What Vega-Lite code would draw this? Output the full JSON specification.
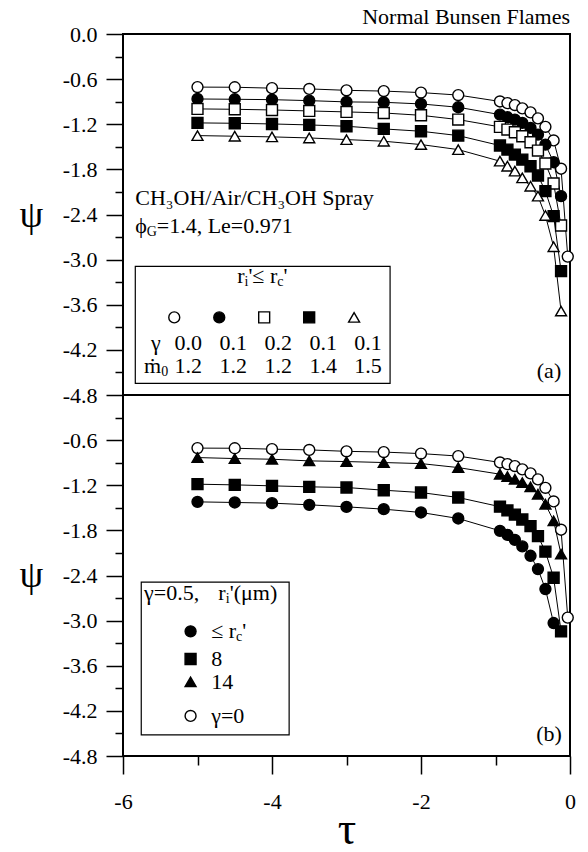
{
  "$schema": "https://vega.github.io/schema/vega-lite/v6.json",
  "padding": {"left": 18, "top": 5, "right": 5, "bottom": 5},
  "background": "white",
  "config": {
    "font": "Liberation Serif",
    "view": {"stroke": "black", "strokeWidth": 2},
    "axis": {"domain": false, "grid": false, "tickColor": "black", "tickWidth": 1.5, "labelColor": "black", "labelFont": "Liberation Serif", "labelFontSize": 22, "titleColor": "black", "titleFont": "Liberation Serif", "titleFontWeight": "normal", "labelFlush": false, "labelOverlap": false}
  },
  "datasets": {
    "top": [
      {"s":"c0","x":-5,"y":-0.706},{"s":"c0","x":-4.5,"y":-0.708},{"s":"c0","x":-4,"y":-0.72},{"s":"c0","x":-3.5,"y":-0.73},{"s":"c0","x":-3,"y":-0.749},{"s":"c0","x":-2.5,"y":-0.759},{"s":"c0","x":-2,"y":-0.779},{"s":"c0","x":-1.5,"y":-0.812},
      {"s":"c0","x":-0.94,"y":-0.897},{"s":"c0","x":-0.84,"y":-0.919},{"s":"c0","x":-0.74,"y":-0.945},{"s":"c0","x":-0.64,"y":-0.989},{"s":"c0","x":-0.53,"y":-1.042},{"s":"c0","x":-0.43,"y":-1.122},{"s":"c0","x":-0.33,"y":-1.234},{"s":"c0","x":-0.22,"y":-1.415},{"s":"c0","x":-0.12,"y":-1.791},{"s":"c0","x":-0.03,"y":-2.96},
      {"s":"c1","x":-5,"y":-0.864},{"s":"c1","x":-4.5,"y":-0.868},{"s":"c1","x":-4,"y":-0.873},{"s":"c1","x":-3.5,"y":-0.886},{"s":"c1","x":-3,"y":-0.903},{"s":"c1","x":-2.5,"y":-0.908},{"s":"c1","x":-2,"y":-0.93},{"s":"c1","x":-1.5,"y":-0.974},
      {"s":"c1","x":-0.94,"y":-1.072},{"s":"c1","x":-0.84,"y":-1.107},{"s":"c1","x":-0.74,"y":-1.138},{"s":"c1","x":-0.64,"y":-1.182},{"s":"c1","x":-0.53,"y":-1.249},{"s":"c1","x":-0.43,"y":-1.337},{"s":"c1","x":-0.33,"y":-1.47},{"s":"c1","x":-0.22,"y":-1.705},{"s":"c1","x":-0.12,"y":-2.156},
      {"s":"s0","x":-5,"y":-0.996},{"s":"s0","x":-4.5,"y":-1.001},{"s":"s0","x":-4,"y":-1.01},{"s":"s0","x":-3.5,"y":-1.023},{"s":"s0","x":-3,"y":-1.036},{"s":"s0","x":-2.5,"y":-1.05},{"s":"s0","x":-2,"y":-1.081},{"s":"s0","x":-1.5,"y":-1.138},
      {"s":"s0","x":-0.94,"y":-1.235},{"s":"s0","x":-0.84,"y":-1.271},{"s":"s0","x":-0.74,"y":-1.306},{"s":"s0","x":-0.64,"y":-1.36},{"s":"s0","x":-0.53,"y":-1.439},{"s":"s0","x":-0.43,"y":-1.55},{"s":"s0","x":-0.33,"y":-1.722},{"s":"s0","x":-0.22,"y":-1.988},{"s":"s0","x":-0.12,"y":-2.546},
      {"s":"s1","x":-5,"y":-1.182},{"s":"s1","x":-4.5,"y":-1.187},{"s":"s1","x":-4,"y":-1.196},{"s":"s1","x":-3.5,"y":-1.209},{"s":"s1","x":-3,"y":-1.227},{"s":"s1","x":-2.5,"y":-1.262},{"s":"s1","x":-2,"y":-1.293},{"s":"s1","x":-1.5,"y":-1.351},
      {"s":"s1","x":-0.94,"y":-1.483},{"s":"s1","x":-0.84,"y":-1.537},{"s":"s1","x":-0.74,"y":-1.603},{"s":"s1","x":-0.64,"y":-1.67},{"s":"s1","x":-0.53,"y":-1.758},{"s":"s1","x":-0.43,"y":-1.882},{"s":"s1","x":-0.33,"y":-2.09},{"s":"s1","x":-0.22,"y":-2.422},{"s":"s1","x":-0.12,"y":-3.152},
      {"s":"t","x":-5,"y":-1.351},{"s":"t","x":-4.5,"y":-1.359},{"s":"t","x":-4,"y":-1.368},{"s":"t","x":-3.5,"y":-1.382},{"s":"t","x":-3,"y":-1.404},{"s":"t","x":-2.5,"y":-1.426},{"s":"t","x":-2,"y":-1.47},{"s":"t","x":-1.5,"y":-1.537},
      {"s":"t","x":-0.94,"y":-1.691},{"s":"t","x":-0.84,"y":-1.758},{"s":"t","x":-0.74,"y":-1.824},{"s":"t","x":-0.64,"y":-1.913},{"s":"t","x":-0.53,"y":-2.024},{"s":"t","x":-0.43,"y":-2.156},{"s":"t","x":-0.33,"y":-2.413},{"s":"t","x":-0.22,"y":-2.829},{"s":"t","x":-0.12,"y":-3.684}
    ],
    "bot": [
      {"s":"c0","x":-5,"y":-0.706},{"s":"c0","x":-4.5,"y":-0.708},{"s":"c0","x":-4,"y":-0.72},{"s":"c0","x":-3.5,"y":-0.73},{"s":"c0","x":-3,"y":-0.749},{"s":"c0","x":-2.5,"y":-0.759},{"s":"c0","x":-2,"y":-0.779},{"s":"c0","x":-1.5,"y":-0.812},
      {"s":"c0","x":-0.94,"y":-0.897},{"s":"c0","x":-0.84,"y":-0.919},{"s":"c0","x":-0.74,"y":-0.945},{"s":"c0","x":-0.64,"y":-0.989},{"s":"c0","x":-0.53,"y":-1.042},{"s":"c0","x":-0.43,"y":-1.122},{"s":"c0","x":-0.33,"y":-1.234},{"s":"c0","x":-0.22,"y":-1.415},{"s":"c0","x":-0.12,"y":-1.791},{"s":"c0","x":-0.03,"y":-2.96},
      {"s":"bt","x":-5,"y":-0.832},{"s":"bt","x":-4.5,"y":-0.845},{"s":"bt","x":-4,"y":-0.854},{"s":"bt","x":-3.5,"y":-0.876},{"s":"bt","x":-3,"y":-0.885},{"s":"bt","x":-2.5,"y":-0.898},{"s":"bt","x":-2,"y":-0.912},{"s":"bt","x":-1.5,"y":-0.965},
      {"s":"bt","x":-0.94,"y":-1.053},{"s":"bt","x":-0.84,"y":-1.084},{"s":"bt","x":-0.74,"y":-1.12},{"s":"bt","x":-0.64,"y":-1.164},{"s":"bt","x":-0.53,"y":-1.222},{"s":"bt","x":-0.43,"y":-1.319},{"s":"bt","x":-0.33,"y":-1.452},{"s":"bt","x":-0.22,"y":-1.673},{"s":"bt","x":-0.12,"y":-2.116},
      {"s":"bs","x":-5,"y":-1.186},{"s":"bs","x":-4.5,"y":-1.195},{"s":"bs","x":-4,"y":-1.208},{"s":"bs","x":-3.5,"y":-1.221},{"s":"bs","x":-3,"y":-1.23},{"s":"bs","x":-2.5,"y":-1.266},{"s":"bs","x":-2,"y":-1.297},{"s":"bs","x":-1.5,"y":-1.363},
      {"s":"bs","x":-0.94,"y":-1.485},{"s":"bs","x":-0.84,"y":-1.535},{"s":"bs","x":-0.74,"y":-1.59},{"s":"bs","x":-0.64,"y":-1.655},{"s":"bs","x":-0.53,"y":-1.744},{"s":"bs","x":-0.43,"y":-1.876},{"s":"bs","x":-0.33,"y":-2.083},{"s":"bs","x":-0.22,"y":-2.43},{"s":"bs","x":-0.12,"y":-3.142},
      {"s":"bc","x":-5,"y":-1.421},{"s":"bc","x":-4.5,"y":-1.429},{"s":"bc","x":-4,"y":-1.438},{"s":"bc","x":-3.5,"y":-1.46},{"s":"bc","x":-3,"y":-1.487},{"s":"bc","x":-2.5,"y":-1.518},{"s":"bc","x":-2,"y":-1.562},{"s":"bc","x":-1.5,"y":-1.642},
      {"s":"bc","x":-0.94,"y":-1.806},{"s":"bc","x":-0.84,"y":-1.859},{"s":"bc","x":-0.74,"y":-1.926},{"s":"bc","x":-0.64,"y":-2.013},{"s":"bc","x":-0.53,"y":-2.138},{"s":"bc","x":-0.43,"y":-2.315},{"s":"bc","x":-0.33,"y":-2.58},{"s":"bc","x":-0.22,"y":-3.032}
    ],
    "legA": [
      {"s":"c0","x":-5.312,"y":-3.768},{"s":"c1","x":-4.708,"y":-3.768},{"s":"s0","x":-4.105,"y":-3.768},{"s":"s1","x":-3.501,"y":-3.768},{"s":"t","x":-2.898,"y":-3.768}
    ],
    "legB": [
      {"s":"bc","x":-5.093,"y":-3.142},{"s":"bs","x":-5.093,"y":-3.51},{"s":"bt","x":-5.093,"y":-3.815},{"s":"c0","x":-5.093,"y":-4.267}
    ],
    "boxA": [{"x":-5.835,"x2":-2.415,"y":-3.09,"y2":-4.645}],
    "boxB": [{"x":-5.755,"x2":-3.77,"y":-2.487,"y2":-4.519}],
    "txtA": [
      {"t":"CH₃OH/Air/CH₃OH Spray","x":-5.835,"y":-2.187,"k":"L"},
      {"t":"ϕ","x":-5.835,"y":-2.559,"k":"L"},
      {"t":"G","x":-5.681,"y":-2.559,"k":"S"},
      {"t":"=1.4, Le=0.971","x":-5.547,"y":-2.559,"k":"L"},
      {"t":"r","x":-4.467,"y":-3.223,"k":"L"},
      {"t":"i","x":-4.369,"y":-3.223,"k":"S"},
      {"t":"'≤ r","x":-4.317,"y":-3.223,"k":"L"},
      {"t":"c","x":-3.929,"y":-3.223,"k":"S"},
      {"t":"'","x":-3.846,"y":-3.223,"k":"L"},
      {"t":"γ","x":-5.56,"y":-4.108,"k":"C"},
      {"t":"0.0","x":-5.124,"y":-4.108,"k":"C"},
      {"t":"0.1","x":-4.52,"y":-4.108,"k":"C"},
      {"t":"0.2","x":-3.917,"y":-4.108,"k":"C"},
      {"t":"0.1","x":-3.313,"y":-4.108,"k":"C"},
      {"t":"0.1","x":-2.71,"y":-4.108,"k":"C"},
      {"t":"ṁ","x":-5.718,"y":-4.42,"k":"L"},
      {"t":"0","x":-5.486,"y":-4.42,"k":"S"},
      {"t":"1.2","x":-5.124,"y":-4.42,"k":"C"},
      {"t":"1.2","x":-4.52,"y":-4.42,"k":"C"},
      {"t":"1.2","x":-3.917,"y":-4.42,"k":"C"},
      {"t":"1.4","x":-3.313,"y":-4.42,"k":"C"},
      {"t":"1.5","x":-2.71,"y":-4.42,"k":"C"},
      {"t":"(a)","x":-0.282,"y":-4.485,"k":"C"}
    ],
    "txtB": [
      {"t":"γ=0.5,","x":-5.718,"y":-2.633,"k":"L"},
      {"t":"r","x":-4.72,"y":-2.633,"k":"L"},
      {"t":"i","x":-4.622,"y":-2.633,"k":"S"},
      {"t":"'(μm)","x":-4.568,"y":-2.633,"k":"L"},
      {"t":"≤ r","x":-4.816,"y":-3.142,"k":"L"},
      {"t":"c","x":-4.482,"y":-3.142,"k":"S"},
      {"t":"'","x":-4.398,"y":-3.142,"k":"L"},
      {"t":"8","x":-4.816,"y":-3.51,"k":"L"},
      {"t":"14","x":-4.816,"y":-3.815,"k":"L"},
      {"t":"γ=0","x":-4.816,"y":-4.267,"k":"L"},
      {"t":"(b)","x":-0.282,"y":-4.503,"k":"C"}
    ]
  },
  "vconcat": [
    {
      "width": 447,
      "height": 361,
      "title": {"text": "Normal Bunsen Flames", "anchor": "end", "frame": "group", "fontSize": 22, "font": "Liberation Serif", "fontWeight": "normal", "color": "black", "offset": -6},
      "resolve": {"axis": {"x": "independent", "y": "independent"}},
      "layer": [
        {
          "data": {"name": "boxA"},
          "mark": {"type": "rect", "fill": "white", "stroke": "black", "strokeWidth": 1.2},
          "encoding": {
            "x": {"field": "x", "type": "quantitative", "scale": {"domain": [-6, 0], "nice": false, "zero": false}, "axis": null},
            "x2": {"field": "x2"},
            "y": {"field": "y", "type": "quantitative", "scale": {"domain": [-4.8, 0], "nice": false, "zero": false}, "axis": {"orient": "left", "values": [0, -0.6, -1.2, -1.8, -2.4, -3, -3.6, -4.2, -4.8], "labelExpr": "(datum.value < 0 ? '-' : '') + format(abs(datum.value), '.1f')", "tickSize": 17, "labelPadding": 9, "title": "ψ", "titleAngle": 0, "titleFontSize": 38, "titleX": -92, "titleY": 181, "titleAlign": "center", "titleBaseline": "middle"}},
            "y2": {"field": "y2"}
          }
        },
        {
          "data": {"name": "top"},
          "mark": {"type": "line", "color": "black", "strokeWidth": 1},
          "encoding": {
            "x": {"field": "x", "type": "quantitative", "axis": null},
            "y": {"field": "y", "type": "quantitative", "axis": {"orient": "left", "values": [-0.3, -0.9, -1.5, -2.1, -2.7, -3.3, -3.9, -4.5], "labels": false, "tickSize": 8, "title": null}},
            "detail": {"field": "s"},
            "order": {"field": "x"}
          }
        },
        {
          "data": {"name": "top"},
          "mark": {"type": "point", "filled": true, "stroke": "black", "strokeWidth": 1.4, "opacity": 1},
          "encoding": {
            "x": {"field": "x", "type": "quantitative", "axis": null},
            "y": {"field": "y", "type": "quantitative", "axis": null},
            "shape": {"field": "s", "type": "nominal", "scale": {"domain": ["c0","c1","s0","s1","t","bc","bs","bt"], "range": ["circle","circle","square","square","triangle-up","circle","square","triangle-up"]}, "legend": null},
            "fill": {"field": "s", "type": "nominal", "scale": {"domain": ["c0","c1","s0","s1","t","bc","bs","bt"], "range": ["white","black","white","black","white","black","black","black"]}, "legend": null},
            "size": {"field": "s", "type": "nominal", "scale": {"domain": ["c0","c1","s0","s1","t","bc","bs","bt"], "range": [120,120,115,115,190,120,115,190]}, "legend": null}
          }
        },
        {
          "data": {"name": "legA"},
          "mark": {"type": "point", "filled": true, "stroke": "black", "strokeWidth": 1.4, "opacity": 1},
          "encoding": {
            "x": {"field": "x", "type": "quantitative", "axis": null},
            "y": {"field": "y", "type": "quantitative", "axis": null},
            "shape": {"field": "s", "type": "nominal", "legend": null},
            "fill": {"field": "s", "type": "nominal", "legend": null},
            "size": {"field": "s", "type": "nominal", "legend": null}
          }
        },
        {
          "data": {"name": "txtA"},
          "transform": [{"filter": "datum.k == 'L'"}],
          "mark": {"type": "text", "align": "left", "baseline": "middle", "fontSize": 22, "font": "Liberation Serif", "color": "black"},
          "encoding": {
            "x": {"field": "x", "type": "quantitative", "axis": null},
            "y": {"field": "y", "type": "quantitative", "axis": null},
            "text": {"field": "t"}
          }
        },
        {
          "data": {"name": "txtA"},
          "transform": [{"filter": "datum.k == 'C'"}],
          "mark": {"type": "text", "align": "center", "baseline": "middle", "fontSize": 22, "font": "Liberation Serif", "color": "black"},
          "encoding": {
            "x": {"field": "x", "type": "quantitative", "axis": null},
            "y": {"field": "y", "type": "quantitative", "axis": null},
            "text": {"field": "t"}
          }
        },
        {
          "data": {"name": "txtA"},
          "transform": [{"filter": "datum.k == 'S'"}],
          "mark": {"type": "text", "align": "left", "baseline": "middle", "fontSize": 14, "dy": 6, "font": "Liberation Serif", "color": "black"},
          "encoding": {
            "x": {"field": "x", "type": "quantitative", "axis": null},
            "y": {"field": "y", "type": "quantitative", "axis": null},
            "text": {"field": "t"}
          }
        }
      ]
    },
    {
      "width": 447,
      "height": 361,
      "resolve": {"axis": {"x": "independent", "y": "independent"}},
      "layer": [
        {
          "data": {"name": "boxB"},
          "mark": {"type": "rect", "fill": "white", "stroke": "black", "strokeWidth": 1.2},
          "encoding": {
            "x": {"field": "x", "type": "quantitative", "scale": {"domain": [-6, 0], "nice": false, "zero": false}, "axis": {"orient": "bottom", "values": [-6, -4, -2, 0], "labelExpr": "(datum.value < 0 ? '-' : '') + format(abs(datum.value), 'd')", "tickSize": 18, "labelPadding": 17, "title": "τ", "titleFontSize": 46, "titleX": 223.5, "titleY": 73, "titleAlign": "center", "titleBaseline": "middle"}},
            "x2": {"field": "x2"},
            "y": {"field": "y", "type": "quantitative", "scale": {"domain": [-4.8, 0], "nice": false, "zero": false}, "axis": {"orient": "left", "values": [-0.6, -1.2, -1.8, -2.4, -3, -3.6, -4.2, -4.8], "labelExpr": "(datum.value < 0 ? '-' : '') + format(abs(datum.value), '.1f')", "tickSize": 17, "labelPadding": 9, "title": "ψ", "titleAngle": 0, "titleFontSize": 38, "titleX": -92, "titleY": 180, "titleAlign": "center", "titleBaseline": "middle"}},
            "y2": {"field": "y2"}
          }
        },
        {
          "data": {"name": "bot"},
          "mark": {"type": "line", "color": "black", "strokeWidth": 1},
          "encoding": {
            "x": {"field": "x", "type": "quantitative", "axis": {"orient": "bottom", "values": [-5, -3, -1], "labels": false, "tickSize": 9, "title": null}},
            "y": {"field": "y", "type": "quantitative", "axis": {"orient": "left", "values": [-0.3, -0.9, -1.5, -2.1, -2.7, -3.3, -3.9, -4.5], "labels": false, "tickSize": 8, "title": null}},
            "detail": {"field": "s"},
            "order": {"field": "x"}
          }
        },
        {
          "data": {"name": "bot"},
          "mark": {"type": "point", "filled": true, "stroke": "black", "strokeWidth": 1.4, "opacity": 1},
          "encoding": {
            "x": {"field": "x", "type": "quantitative", "axis": null},
            "y": {"field": "y", "type": "quantitative", "axis": null},
            "shape": {"field": "s", "type": "nominal", "scale": {"domain": ["c0","c1","s0","s1","t","bc","bs","bt"], "range": ["circle","circle","square","square","triangle-up","circle","square","triangle-up"]}, "legend": null},
            "fill": {"field": "s", "type": "nominal", "scale": {"domain": ["c0","c1","s0","s1","t","bc","bs","bt"], "range": ["white","black","white","black","white","black","black","black"]}, "legend": null},
            "size": {"field": "s", "type": "nominal", "scale": {"domain": ["c0","c1","s0","s1","t","bc","bs","bt"], "range": [120,120,115,115,190,120,115,190]}, "legend": null}
          }
        },
        {
          "data": {"name": "legB"},
          "mark": {"type": "point", "filled": true, "stroke": "black", "strokeWidth": 1.4, "opacity": 1},
          "encoding": {
            "x": {"field": "x", "type": "quantitative", "axis": null},
            "y": {"field": "y", "type": "quantitative", "axis": null},
            "shape": {"field": "s", "type": "nominal", "legend": null},
            "fill": {"field": "s", "type": "nominal", "legend": null},
            "size": {"field": "s", "type": "nominal", "legend": null}
          }
        },
        {
          "data": {"name": "txtB"},
          "transform": [{"filter": "datum.k == 'L'"}],
          "mark": {"type": "text", "align": "left", "baseline": "middle", "fontSize": 22, "font": "Liberation Serif", "color": "black"},
          "encoding": {
            "x": {"field": "x", "type": "quantitative", "axis": null},
            "y": {"field": "y", "type": "quantitative", "axis": null},
            "text": {"field": "t"}
          }
        },
        {
          "data": {"name": "txtB"},
          "transform": [{"filter": "datum.k == 'C'"}],
          "mark": {"type": "text", "align": "center", "baseline": "middle", "fontSize": 22, "font": "Liberation Serif", "color": "black"},
          "encoding": {
            "x": {"field": "x", "type": "quantitative", "axis": null},
            "y": {"field": "y", "type": "quantitative", "axis": null},
            "text": {"field": "t"}
          }
        },
        {
          "data": {"name": "txtB"},
          "transform": [{"filter": "datum.k == 'S'"}],
          "mark": {"type": "text", "align": "left", "baseline": "middle", "fontSize": 14, "dy": 6, "font": "Liberation Serif", "color": "black"},
          "encoding": {
            "x": {"field": "x", "type": "quantitative", "axis": null},
            "y": {"field": "y", "type": "quantitative", "axis": null},
            "text": {"field": "t"}
          }
        }
      ]
    }
  ],
  "spacing": 0,
  "bounds": "flush"
}
